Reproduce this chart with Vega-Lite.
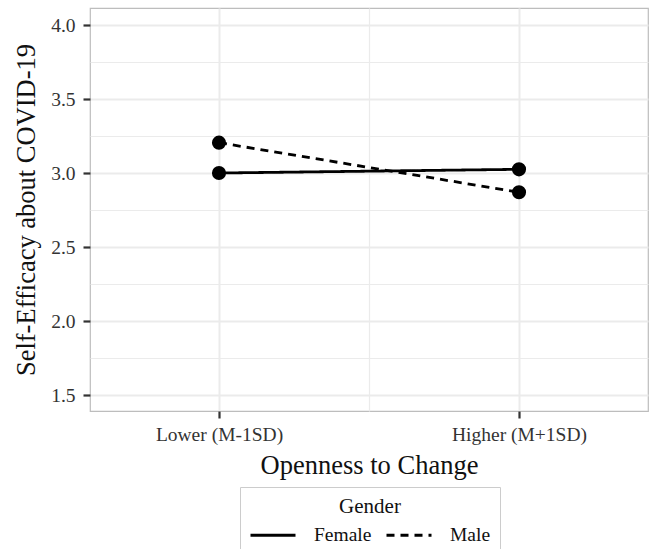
{
  "$schema": "https://vega.github.io/schema/vega-lite/v6.json",
  "autosize": {"type": "none"},
  "width": 558,
  "height": 403,
  "padding": {"left": 90, "top": 8, "right": 3, "bottom": 138},
  "background": "white",
  "config": {
    "font": "Liberation Serif",
    "view": {"stroke": "#bdbdbd", "strokeWidth": 1.2},
    "axis": {"domain": false, "gridColor": "#ebebeb", "labelFont": "Liberation Serif", "titleFont": "Liberation Serif", "titleFontWeight": "normal", "labelColor": "#333333", "titleColor": "#111111"},
    "legend": {"labelFont": "Liberation Serif", "titleFont": "Liberation Serif"}
  },
  "data": {
    "values": [
      {"level": 1, "gender": "Female", "value": 3.0},
      {"level": 2, "gender": "Female", "value": 3.025},
      {"level": 1, "gender": "Male", "value": 3.205},
      {"level": 2, "gender": "Male", "value": 2.87}
    ]
  },
  "encoding": {
    "x": {
      "field": "level", "type": "quantitative",
      "scale": {"domain": [0.57, 2.43], "nice": false, "zero": false},
      "axis": {
        "values": [1, 1.5, 2],
        "labelExpr": "datum.value == 1 ? 'Lower (M-1SD)' : (datum.value == 2 ? 'Higher (M+1SD)' : '')",
        "labelFontSize": 19.5,
        "labelPadding": 7,
        "tickSize": 7,
        "tickWidth": 2.2,
        "tickColor": {"condition": {"test": "datum.value == 1.5", "value": "transparent"}, "value": "#333333"},
        "gridWidth": {"condition": {"test": "datum.value == 1.5", "value": 1.2}, "value": 2},
        "title": "Openness to Change",
        "titleFontSize": 26.5,
        "titlePadding": 9
      }
    },
    "y": {
      "field": "value", "type": "quantitative",
      "scale": {"domain": [1.392, 4.115], "nice": false, "zero": false},
      "axis": {
        "values": [1.5, 1.75, 2, 2.25, 2.5, 2.75, 3, 3.25, 3.5, 3.75, 4],
        "labelExpr": "(datum.value * 2) % 1 == 0 ? format(datum.value, '.1f') : ''",
        "labelFontSize": 19.5,
        "labelPadding": 8,
        "tickSize": 7,
        "tickWidth": 2.2,
        "tickColor": {"condition": {"test": "(datum.value * 2) % 1 != 0", "value": "transparent"}, "value": "#333333"},
        "gridWidth": {"condition": {"test": "(datum.value * 2) % 1 != 0", "value": 1.2}, "value": 2},
        "title": "Self-Efficacy about COVID-19",
        "titleFontSize": 26.5,
        "titlePadding": 10
      }
    }
  },
  "layer": [
    {
      "mark": {"type": "line", "color": "black", "strokeWidth": 2.8},
      "encoding": {
        "strokeDash": {
          "field": "gender", "type": "nominal",
          "scale": {"domain": ["Female", "Male"], "range": [[1, 0], [8, 6]]},
          "legend": {
            "title": "Gender",
            "orient": "none",
            "legendX": 150,
            "legendY": 479,
            "direction": "horizontal",
            "titleAnchor": "middle",
            "titleFontSize": 21,
            "titleFontWeight": "normal",
            "titleColor": "#111111",
            "titlePadding": -6,
            "labelFontSize": 19.5,
            "labelColor": "#111111",
            "symbolType": "stroke",
            "symbolSize": 2025,
            "symbolStrokeWidth": 2.8,
            "symbolStrokeColor": "black",
            "labelOffset": 17,
            "columnPadding": 8,
            "padding": 9,
            "strokeColor": "#cccccc",
            "fillColor": "white"
          }
        }
      }
    },
    {
      "mark": {"type": "point", "filled": true, "color": "black", "opacity": 1, "size": 200},
      "encoding": {"detail": {"field": "gender", "type": "nominal"}}
    }
  ]
}
